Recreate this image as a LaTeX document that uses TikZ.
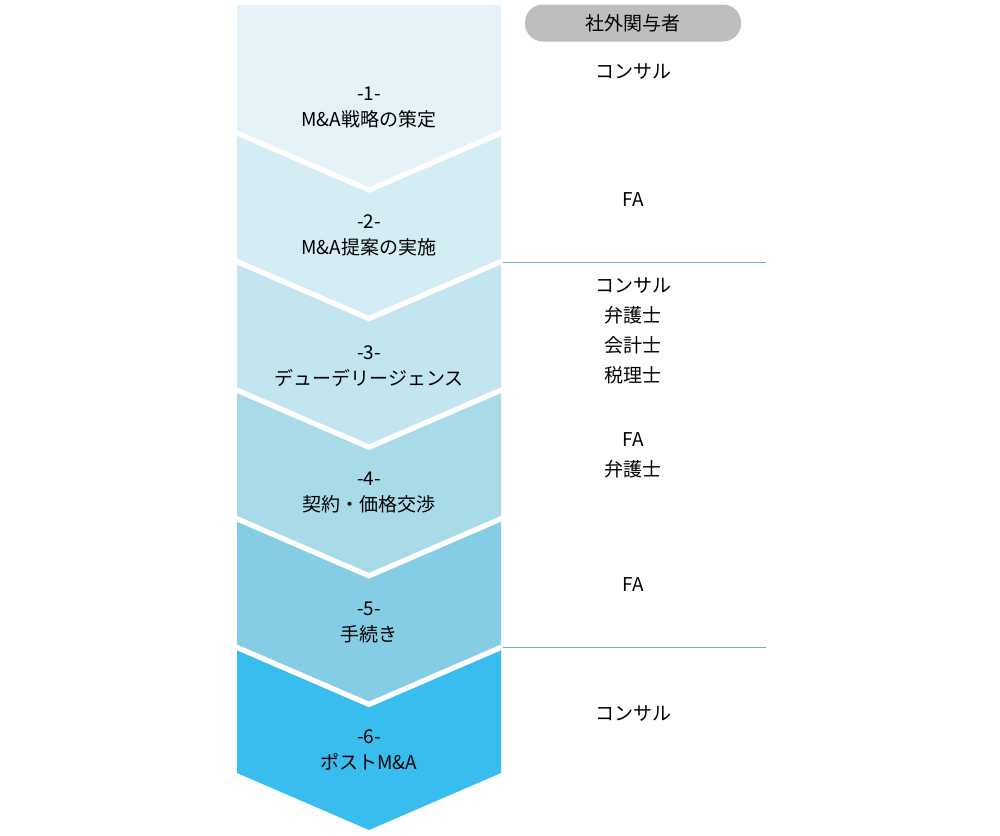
\documentclass[tikz,border=0pt]{standalone}
\usepackage{fontspec}
\setmainfont{Noto Sans CJK JP}
\begin{document}
\begin{tikzpicture}[x=1pt,y=-1pt,
  lbl/.style={font=\fontsize{19}{26}\selectfont,align=center,text=black},
  sep/.style={draw=cyan!70!blue!60,line width=1pt}]
\useasboundingbox[fill=white] (0,0) rectangle (1000,835);
\def\L{237}\def\R{501}\def\M{369}\def\D{57}
% chevron 1
\fill[fill={rgb,255:red,229;green,243;blue,249}] (\L,5) -- (\R,5) -- (\R,130) -- (\M,187) -- (\L,130) -- cycle;
\foreach \i/\c in {1/{212,237,245},2/{194,229,239},3/{168,218,232},4/{132,205,229},5/{56,189,238}}{
  \pgfmathsetmacro\T{130+128.6*(\i-1)+6}
  \pgfmathsetmacro\B{130+128.6*\i}
  \definecolor{cc}{RGB}{\c}
  \fill[cc] (\L,\T) -- (\M,\T+\D) -- (\R,\T) -- (\R,\B) -- (\M,\B+\D) -- (\L,\B) -- cycle;
}
\node[lbl] (s1) at (\M,108) {-1-\\M\&A戦略の策定};
\node[lbl] (s2) at (\M,235) {-2-\\M\&A提案の実施};
\node[lbl] (s3) at (\M,366) {-3-\\デューデリージェンス};
\node[lbl] (s4) at (\M,493) {-4-\\契約・価格交渉};
\node[lbl] (s5) at (\M,622) {-5-\\手続き};
\node[lbl] (s6) at (\M,750) {-6-\\ポストM\&A};
\node[fill={rgb,255:red,190;green,190;blue,190},rounded corners=18pt,minimum width=216pt,minimum height=37pt,lbl] (hd) at (633,23) {社外関与者};
\node[lbl] (r1) at (633,72) {コンサル};
\node[lbl] (r2) at (633,200) {FA};
\node[lbl,font=\fontsize{19}{30}\selectfont] (r3) at (633,331) {コンサル\\弁護士\\会計士\\税理士};
\node[lbl,font=\fontsize{19}{30}\selectfont] (r4) at (633,455) {FA\\弁護士};
\node[lbl] (r5) at (633,585) {FA};
\node[lbl] (r6) at (633,714) {コンサル};
\coordinate (a1) at (503,262); \coordinate (a2) at (766,262);
\coordinate (b1) at (503,647); \coordinate (b2) at (766,647);
\draw[sep] (a1) -- (a2);
\draw[sep] (b1) -- (b2);
\end{tikzpicture}
\end{document}
